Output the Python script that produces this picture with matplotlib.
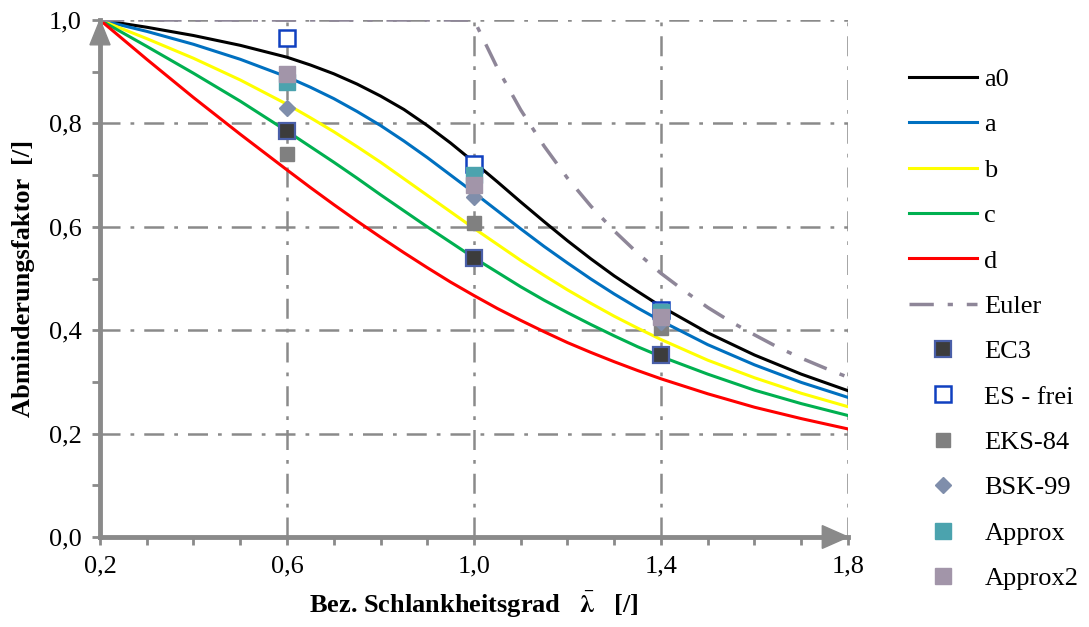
"""
Buckling reduction factor chart: EC3 curves a0..d, Euler, and comparison points.
"""
import matplotlib
matplotlib.use("Agg")
import matplotlib.pyplot as plt
import numpy as np
from matplotlib.patches import Polygon

plt.rcParams.update({
    "font.family": "serif",
    "font.serif": ["Liberation Serif", "DejaVu Serif"],
    "mathtext.fontset": "stix",
    "font.size": 19,
})

# ----------------------------------------------------------------------------
# Data
# ----------------------------------------------------------------------------
lam = [0.2, 0.3, 0.4, 0.5, 0.6, 0.65, 0.7, 0.75, 0.8, 0.85, 0.9, 0.95, 1.0,
       1.05, 1.1, 1.15, 1.2, 1.25, 1.3, 1.35, 1.4, 1.5, 1.6, 1.7, 1.8]
chi_a0 = [1.0, 0.986, 0.970, 0.951, 0.928, 0.913, 0.896, 0.876, 0.853,
          0.827, 0.796, 0.762, 0.725, 0.687, 0.648, 0.610, 0.573, 0.538,
          0.505, 0.475, 0.446, 0.395, 0.352, 0.315, 0.283]
chi_a = [1.0, 0.978, 0.953, 0.924, 0.890, 0.870, 0.848, 0.823, 0.796,
         0.766, 0.734, 0.700, 0.666, 0.631, 0.596, 0.562, 0.530, 0.499,
         0.470, 0.443, 0.418, 0.372, 0.333, 0.299, 0.270]
chi_b = [1.0, 0.964, 0.926, 0.884, 0.837, 0.811, 0.784, 0.755, 0.725,
         0.693, 0.661, 0.629, 0.597, 0.566, 0.535, 0.506, 0.478, 0.452,
         0.427, 0.404, 0.382, 0.342, 0.308, 0.278, 0.252]
chi_c = [1.0, 0.949, 0.897, 0.843, 0.785, 0.755, 0.725, 0.694, 0.662,
         0.631, 0.600, 0.570, 0.540, 0.512, 0.484, 0.458, 0.434, 0.411,
         0.389, 0.368, 0.349, 0.315, 0.284, 0.258, 0.235]
chi_d = [1.0, 0.924, 0.850, 0.779, 0.710, 0.676, 0.643, 0.611, 0.580,
         0.550, 0.521, 0.493, 0.467, 0.442, 0.419, 0.397, 0.376, 0.357,
         0.339, 0.322, 0.306, 0.277, 0.251, 0.229, 0.209]

lam_euler = [0.2, 1.0, 1.05, 1.1, 1.15, 1.2, 1.25, 1.3, 1.35, 1.4,
             1.45, 1.5, 1.55, 1.6, 1.65, 1.7, 1.75, 1.8]
chi_euler = [1.0, 1.0, 0.907, 0.826, 0.756, 0.694, 0.640, 0.592, 0.549,
             0.510, 0.476, 0.444, 0.416, 0.391, 0.367, 0.346, 0.327, 0.309]

lam_pts = [0.6, 1.0, 1.4]
ec3 = [0.785, 0.540, 0.352]
es_frei = [0.966, 0.721, 0.440]
eks84 = [0.740, 0.607, 0.405]
bsk99 = [0.830, 0.658, 0.415]
approx = [0.880, 0.700, 0.435]
approx2 = [0.895, 0.680, 0.425]

x_labels = ["0,2", "0,6", "1,0", "1,4", "1,8"]
y_labels = ["0,0", "0,2", "0,4", "0,6", "0,8", "1,0"]

AXIS_GRAY = "#8a8a8a"
FS = 19

# ----------------------------------------------------------------------------
# Figure
# ----------------------------------------------------------------------------
fig = plt.figure(figsize=(10.89, 6.27), dpi=100)
ax = fig.add_axes([100 / 1089, 90 / 627, 748 / 1089, 517 / 627])
ax.set_xlim(0.2, 1.8)
ax.set_ylim(0.0, 1.0)

# grid
for xv in [0.6, 1.0, 1.4, 1.8]:
    ax.axvline(xv, color=AXIS_GRAY, lw=1.8, ls=(0, (8, 4, 1.5, 4)), zorder=1)
for yv in [0.2, 0.4, 0.6, 0.8, 1.0]:
    ax.axhline(yv, color=AXIS_GRAY, lw=1.8, ls=(0, (8, 4, 1.5, 4)), zorder=1)

# curves
lw = 2.2
ax.plot(lam, chi_a0, color="black", lw=lw, label="a0", zorder=3)
ax.plot(lam, chi_a, color="#0070c0", lw=lw, label="a", zorder=3)
ax.plot(lam, chi_b, color="#ffff00", lw=lw, label="b", zorder=3)
ax.plot(lam, chi_c, color="#00b050", lw=lw, label="c", zorder=3)
ax.plot(lam, chi_d, color="#ff0000", lw=lw, label="d", zorder=3)
ax.plot(lam_euler, chi_euler, color="#8e8698", lw=2.5,
        ls=(0, (7, 4, 1.5, 4)), label="Euler", zorder=3)

# comparison points
ax.plot(lam_pts, ec3, ls="none", marker="s", ms=11, mfc="#3c3c3c",
        mec="#4a5fa8", mew=1.6, label="EC3", zorder=4)
ax.plot(lam_pts, es_frei, ls="none", marker="s", ms=11, mfc="white",
        mec="#1040c0", mew=1.8, label="ES - frei", zorder=4)
ax.plot(lam_pts, eks84, ls="none", marker="s", ms=10, mfc="#808080",
        mec="#808080", label="EKS-84", zorder=4)
ax.plot(lam_pts, bsk99, ls="none", marker="D", ms=8, mfc="#7f8eab",
        mec="#7f8eab", label="BSK-99", zorder=4)
ax.plot(lam_pts, approx, ls="none", marker="s", ms=11, mfc="#4ba3ae",
        mec="#4ba3ae", label="Approx", zorder=4)
ax.plot(lam_pts, approx2, ls="none", marker="s", ms=11, mfc="#a295a9",
        mec="#a295a9", label="Approx2", zorder=4)

# axes, ticks
for s in ["top", "right"]:
    ax.spines[s].set_visible(False)
for s in ["left", "bottom"]:
    ax.spines[s].set_color(AXIS_GRAY)
    ax.spines[s].set_linewidth(3.5)
    ax.spines[s].set_zorder(5)

ax.set_xticks([0.2, 0.6, 1.0, 1.4, 1.8])
ax.set_xticklabels(x_labels)
ax.set_yticks([0.0, 0.2, 0.4, 0.6, 0.8, 1.0])
ax.set_yticklabels(y_labels)
ax.set_xticks(np.arange(0.2, 1.81, 0.1), minor=True)
ax.set_yticks(np.arange(0.0, 1.01, 0.1), minor=True)
ax.tick_params(which="both", color=AXIS_GRAY, width=2, length=6,
               direction="out", labelsize=FS, pad=7)

# arrow heads on the axes
tri_y = Polygon([[0.2 - 0.0215, 0.952], [0.2 + 0.0215, 0.952], [0.2, 1.0]],
                closed=True, color=AXIS_GRAY, zorder=6, clip_on=False)
tri_x = Polygon([[1.8 - 0.055, -0.022], [1.8 - 0.055, 0.022], [1.8, 0.0]],
                closed=True, color=AXIS_GRAY, zorder=6, clip_on=False)
ax.add_patch(tri_y)
ax.add_patch(tri_x)

ax.set_ylabel("Abminderungsfaktor  [/]", fontweight="bold", fontsize=FS,
              labelpad=10)
ax.set_xlabel(r"Bez. Schlankheitsgrad   $\bar{\mathbf{\lambda}}$   [/]",
              fontweight="bold", fontsize=FS, labelpad=9)

leg = fig.legend(loc="upper left", bbox_to_anchor=(898 / 1089, 1 - 57 / 627),
                 frameon=False, fontsize=FS, handlelength=2.6,
                 handletextpad=0.27, labelspacing=0.83, borderaxespad=0)

fig.savefig("out.png", dpi=100, facecolor="white")
